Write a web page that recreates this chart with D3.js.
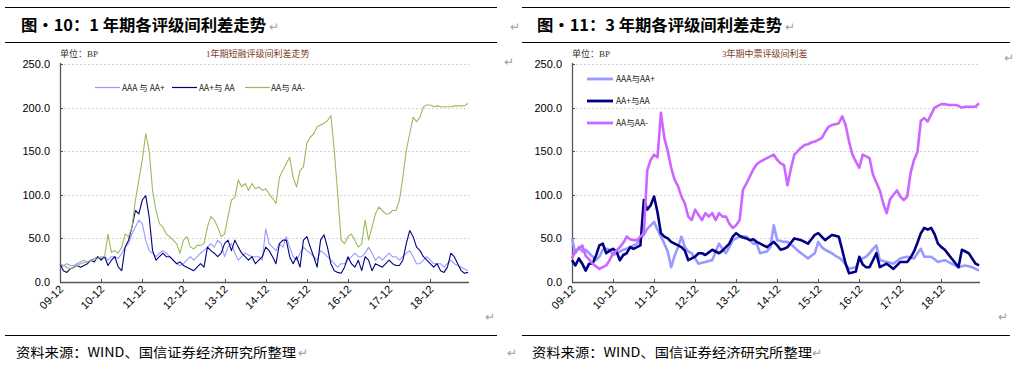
<!DOCTYPE html>
<html><head><meta charset="utf-8">
<script src="https://cdn.jsdelivr.net/npm/d3@7"></script>
<style>
html,body{margin:0;padding:0;background:#fff;}
svg{display:block;}
text{font-family:"Liberation Sans","Noto Sans CJK SC",sans-serif;}
.cjk{font-family:"Noto Sans CJK SC","Liberation Sans",sans-serif;}
.serif{font-family:"Liberation Serif","Noto Sans CJK SC",serif;}
</style></head>
<body><svg id="c" width="1014" height="366"></svg>
<script>
// ---------- data ----------
const xTickLabels = ["09-12","10-12","11-12","12-12","13-12","14-12","15-12","16-12","17-12","18-12"];
const yTicks = [0,50,100,150,200,250];
const seriesNames = ["AAA与AA+","AA+与AA","AA与AA-"];
const leftLegendNames = ["AAA 与 AA+","AA+与 AA","AA与 AA-"];

// 1-year short-term notes, monthly from 2009-12
const left_AAA_AAp = [17,19,21,19,19,21,23,25,23,25,27,29,
 27,29,25,29,29,27,33,40,44,55,63,71,
 67,48,36,33,29,33,36,33,29,25,21,19,
 21,25,29,25,29,33,36,40,44,40,48,44,
 29,40,44,33,25,29,33,31,29,29,29,25,
 61,44,40,36,44,40,52,40,29,25,33,40,
 36,33,29,25,36,33,29,25,21,17,21,21,
 25,29,33,29,29,33,40,33,25,29,25,29,
 33,29,29,25,29,33,36,29,21,21,25,29,
 25,21,21,21,17,21,25,21,19,17,15,13];
const left_AAp_AA = [21,13,11,15,17,19,17,19,21,25,23,29,
 25,29,19,25,29,17,13,40,48,63,82,78,
 94,99,75,36,25,29,33,29,29,25,21,23,
 19,17,15,13,17,21,17,40,36,33,29,33,
 44,48,36,48,40,33,29,25,29,21,25,29,
 40,36,29,21,44,48,48,29,21,29,17,48,
 52,40,29,17,48,54,40,21,13,11,10,17,
 29,21,17,25,13,29,25,13,21,19,17,21,
 25,21,19,19,25,44,59,52,40,36,29,25,
 21,17,21,13,11,17,33,29,21,13,10,11];
const left_AA_AAm = [21,19,17,15,17,19,21,22,23,25,26,27,
 29,29,55,34,36,33,40,55,52,63,94,117,
 140,170,151,105,82,67,63,55,52,48,44,33,
 48,52,40,38,42,42,44,63,75,71,63,52,
 55,75,94,97,117,109,113,105,113,107,109,105,
 107,101,96,90,120,128,136,143,120,109,128,132,
 159,166,170,178,180,182,185,191,151,101,48,44,
 52,55,48,40,44,71,48,63,78,86,82,78,
 78,82,82,94,120,151,170,189,184,189,201,203,
 203,201,202,201,201,201,201,202,202,202,202,205];

// 3-year medium-term notes, monthly from 2009-12
const right_AAA_AAp = [50,33,40,35,37,33,29,25,29,37,38,37,
 31,33,35,37,38,40,42,44,50,54,61,65,
 69,60,52,44,35,17,30,40,52,40,35,33,
 27,21,22,23,24,25,35,44,38,33,40,48,
 50,52,52,52,48,44,44,33,34,35,40,65,
 48,47,46,46,43,40,36,33,30,27,30,33,
 46,40,37,35,33,30,28,25,20,15,16,17,
 25,27,29,33,38,42,25,24,23,22,21,24,
 27,28,29,28,27,33,38,29,29,29,26,23,
 24,25,23,21,19,17,18,19,18,17,15,13];
const right_AAp_AA = [25,19,27,21,13,21,21,30,42,44,33,36,
 38,35,25,31,33,40,38,40,42,94,83,88,
 98,80,56,52,50,46,44,42,40,36,25,27,
 29,33,33,31,34,37,35,33,36,40,44,52,
 56,53,51,50,48,49,46,44,42,40,43,46,
 42,37,38,40,45,50,49,48,46,44,49,54,
 56,52,48,51,54,53,52,37,21,10,11,12,
 29,20,17,17,25,33,17,19,21,18,15,19,
 23,23,23,28,35,45,56,62,60,62,55,44,
 40,37,32,27,22,17,37,35,33,27,21,19];
const right_AA_AAm = [27,36,38,42,30,26,21,18,15,17,19,25,
 33,36,40,45,52,49,48,48,52,56,128,140,
 146,143,194,165,150,131,117,110,98,90,75,71,
 83,77,71,79,75,79,71,79,75,75,67,62,
 65,71,106,113,121,129,135,138,140,142,144,146,
 140,136,134,111,130,146,150,154,157,158,160,161,
 163,165,172,178,180,181,182,190,180,161,146,138,
 131,146,144,142,123,114,105,90,79,95,100,105,
 98,94,98,125,140,149,185,188,184,192,200,202,
 204,204,203,203,203,202,200,201,201,201,201,205];

// ---------- drawing ----------
const svg = d3.select("#c");
svg.append("rect").attr("width",1014).attr("height",366).attr("fill","#fff");

function retMark(x,y){
  svg.append("text").attr("x",x).attr("y",y).attr("fill","#a0a0a0")
    .attr("font-size",12).attr("class","cjk").text("↵");
}

function frame(opt){
  svg.append("line").attr("x1",opt.x0).attr("x2",opt.x1).attr("y1",7.5).attr("y2",7.5).attr("stroke","#000").attr("stroke-width",1.2);
  svg.append("line").attr("x1",opt.x0).attr("x2",opt.x1).attr("y1",42.5).attr("y2",42.5).attr("stroke","#000").attr("stroke-width",1.2);
  svg.append("line").attr("x1",opt.x0).attr("x2",opt.x1).attr("y1",335.5).attr("y2",335.5).attr("stroke","#000").attr("stroke-width",1.2);
  svg.append("text").attr("x",opt.tx).attr("y",31).attr("font-size",16).attr("font-weight","bold").attr("fill","#000").attr("class","cjk")
    .attr("textLength",245).attr("lengthAdjust","spacingAndGlyphs").text(opt.title);
  svg.append("text").attr("x",opt.tx-5).attr("y",357).attr("font-size",13).attr("fill","#000").attr("class","cjk")
    .attr("textLength",280).attr("lengthAdjust","spacingAndGlyphs").text("资料来源：WIND、国信证券经济研究所整理");
}

function chart(opt){
  const y = d3.scaleLinear().domain([0,250]).range([282,64]);
  const x = d3.scaleLinear().domain([0,119]).range([opt.px0, opt.px1]);
  const g = svg.append("g");
  g.selectAll(".grid").data(yTicks.filter(d=>d>0)).join("line")
    .attr("x1",opt.px0).attr("x2",opt.gx1)
    .attr("y1",d=>Math.round(y(d))+0.5).attr("y2",d=>Math.round(y(d))+0.5)
    .attr("stroke","#c8c8c8").attr("stroke-width",0.8).attr("stroke-dasharray","2,2");
  g.selectAll(".yl").data(yTicks).join("text")
    .attr("x",opt.px0-10).attr("y",d=>y(d)+4).attr("text-anchor","end")
    .attr("font-size",11).attr("fill","#000").text(d=>d.toFixed(1));
  g.append("line").attr("x1",opt.px0+0.5).attr("x2",opt.px0+0.5).attr("y1",63).attr("y2",283)
    .attr("stroke","#555").attr("stroke-width",1.3);
  g.selectAll(".yt").data(yTicks).join("line")
    .attr("x1",opt.px0).attr("x2",opt.px0+3).attr("y1",d=>Math.round(y(d))+0.5).attr("y2",d=>Math.round(y(d))+0.5)
    .attr("stroke","#555");
  g.append("line").attr("x1",opt.px0).attr("x2",opt.gx1).attr("y1",282.5).attr("y2",282.5)
    .attr("stroke","#555").attr("stroke-width",1.3);
  g.selectAll(".xt").data(xTickLabels).join("line")
    .attr("x1",(d,i)=>Math.round(x(i*12))+0.5).attr("x2",(d,i)=>Math.round(x(i*12))+0.5)
    .attr("y1",279).attr("y2",283).attr("stroke","#555");
  g.selectAll(".xl").data(xTickLabels).join("text")
    .attr("transform",(d,i)=>`translate(${x(i*12)+4},${290}) rotate(-45)`)
    .attr("text-anchor","end").attr("font-size",11).attr("fill","#000").text(d=>d);
  const line = d3.line().x((d,i)=>x(i)).y(d=>y(d));
  opt.series.forEach((s,k)=>{
    g.append("path").datum(s).attr("d",line).attr("fill","none")
      .attr("stroke",opt.colors[k]).attr("stroke-width",opt.lw).attr("stroke-linejoin","round");
  });
  svg.append("text").attr("x",opt.px0).attr("y",57).attr("font-size",9).attr("fill","#333").attr("class","serif").text("单位：BP");
  svg.append("text").attr("x",opt.ctx).attr("y",57).attr("font-size",9).attr("fill","#7a3b1e").attr("class","serif").text(opt.ctitle);
}

frame({x0:5,x1:497,tx:21,title:"图·10：1 年期各评级间利差走势"});
frame({x0:522,x1:1010,tx:537,title:"图·11：3 年期各评级间利差走势"});

const leftColors = ["#9999ff","#000080","#9bbb59"];
const rightColors = ["#9999ff","#000080","#cc66ff"];

chart({px0:60,px1:468,gx1:469,series:[left_AAA_AAp,left_AAp_AA,left_AA_AAm],colors:leftColors,lw:1.1,
  ctx:206,ctitle:"1年期短融评级间利差走势"});
chart({px0:572,px1:979,gx1:980,series:[right_AAA_AAp,right_AAp_AA,right_AA_AAm],colors:rightColors,lw:2.6,
  ctx:722,ctitle:"3年期中票评级间利差"});

const lgL = [{x:95,tx:122},{x:172,tx:199},{x:245,tx:271}];
lgL.forEach((p,k)=>{
  svg.append("line").attr("x1",p.x).attr("x2",p.x+25).attr("y1",87.5).attr("y2",87.5).attr("stroke",leftColors[k]).attr("stroke-width",1.2);
  svg.append("text").attr("x",p.tx).attr("y",90.5).attr("font-size",8.5).attr("fill","#222").attr("class","cjk").text(leftLegendNames[k]);
});
[79,101,123].forEach((yy,k)=>{
  svg.append("line").attr("x1",587).attr("x2",613).attr("y1",yy).attr("y2",yy).attr("stroke",rightColors[k]).attr("stroke-width",2.8);
  svg.append("text").attr("x",616).attr("y",yy+3).attr("font-size",8.5).attr("fill","#222").attr("class","cjk").text(seriesNames[k]);
});

retMark(269,31); retMark(785,31); retMark(510,31);
retMark(504,66); retMark(485,321); retMark(998,321);
retMark(298,357); retMark(812,357); retMark(507,357); retMark(1004,62);
</script>
</body></html>
